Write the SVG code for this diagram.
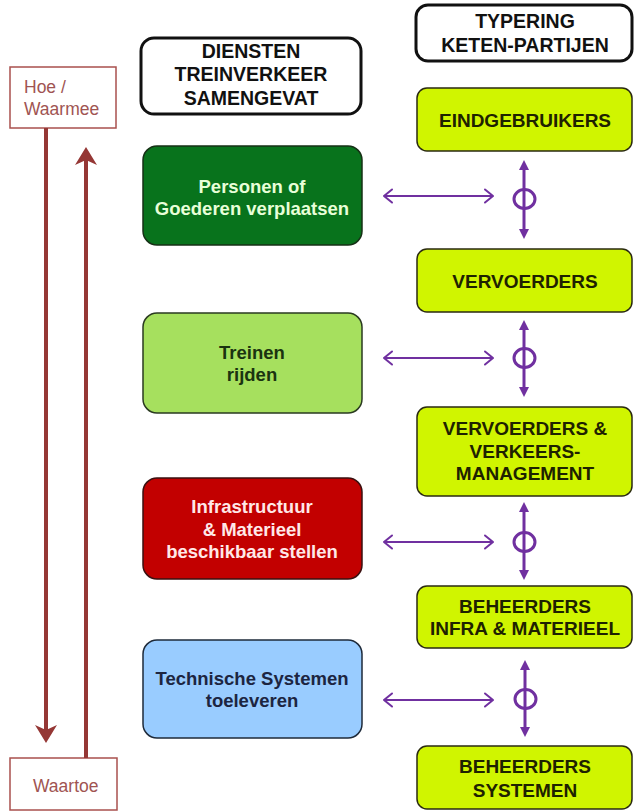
<svg xmlns="http://www.w3.org/2000/svg" width="634" height="811" viewBox="0 0 634 811">
<style>
.hdr{fill:#fff;stroke:#111;stroke-width:3}
.lbl{font-family:"Liberation Sans",Arial,sans-serif;font-weight:bold;text-anchor:middle}
.h{font-size:19.5px;fill:#111}
.r{font-size:19px;fill:#1e2200}
.l{font-size:18.5px}
.part{fill:#d0f500;stroke:#2a2a10;stroke-width:1.5}
.side{fill:#fff;stroke:#a9504e;stroke-width:1.5}
.sidet{font-family:"Liberation Sans",Arial,sans-serif;font-size:17.5px;fill:#a05452}
.brown{stroke:#953735;stroke-width:4;fill:none}
.vp{stroke:#7030a0;stroke-width:3;fill:none}
.hp{stroke:#7030a0;stroke-width:2;fill:none}
.ring{stroke:#7030a0;stroke-width:3;fill:none}
</style>
<defs>
<marker id="bh" viewBox="-10 -12 22 24" refX="0" refY="0" markerWidth="22" markerHeight="24" markerUnits="userSpaceOnUse" orient="auto">
<path d="M10,0 L-8,-11 L-3,0 L-8,11 Z" fill="#953735"/>
</marker>
<marker id="ph" viewBox="-5 -6 12 12" refX="0" refY="0" markerWidth="12" markerHeight="12" markerUnits="userSpaceOnUse" orient="auto-start-reverse">
<path d="M6,0 L-4,-5 L-4,5 Z" fill="#7030a0"/>
</marker>
<marker id="po" viewBox="-10 -8 12 16" refX="0" refY="0" markerWidth="12" markerHeight="16" markerUnits="userSpaceOnUse" orient="auto-start-reverse">
<path d="M-8,-6.5 L0,0 L-8,6.5" fill="none" stroke="#7030a0" stroke-width="2" stroke-linejoin="round" stroke-linecap="round"/>
</marker>
</defs>
<rect width="634" height="811" fill="#fff"/>

<g id="hoe">
<rect class="side" x="10" y="67" width="106" height="61"/>
<text class="sidet" x="24" y="93">Hoe /</text>
<text class="sidet" x="24" y="115">Waarmee</text>
</g>
<g id="waartoe">
<rect class="side" x="10" y="758" width="107" height="52"/>
<text class="sidet" x="33" y="792">Waartoe</text>
</g>

<g id="diensten">
<rect class="hdr" x="141" y="38" width="220" height="76" rx="13"/>
<text class="lbl h" x="251" y="58">DIENSTEN</text>
<text class="lbl h" x="251" y="81">TREINVERKEER</text>
<text class="lbl h" x="251" y="105">SAMENGEVAT</text>
</g>
<g id="typering">
<rect class="hdr" x="416" y="5" width="216" height="56" rx="12"/>
<text class="lbl h" x="525" y="28">TYPERING</text>
<text class="lbl h" x="525" y="52">KETEN-PARTIJEN</text>
</g>

<g id="eindgebruikers">
<rect class="part" x="417" y="88" width="215" height="63" rx="10"/>
<text class="lbl r" x="525" y="127">EINDGEBRUIKERS</text>
</g>
<g id="vervoerders">
<rect class="part" x="417" y="249" width="215" height="63" rx="10"/>
<text class="lbl r" x="525" y="288">VERVOERDERS</text>
</g>
<g id="verkeersmanagement">
<rect class="part" x="417" y="407" width="215" height="89" rx="10"/>
<text class="lbl r" x="525" y="435">VERVOERDERS &amp;</text>
<text class="lbl r" x="525" y="457.5">VERKEERS-</text>
<text class="lbl r" x="525" y="480">MANAGEMENT</text>
</g>
<g id="beheerders-infra">
<rect class="part" x="417" y="586" width="215" height="62" rx="10"/>
<text class="lbl r" x="525" y="613">BEHEERDERS</text>
<text class="lbl r" x="525" y="635">INFRA &amp; MATERIEEL</text>
</g>
<g id="beheerders-systemen">
<rect class="part" x="417" y="746" width="215" height="63" rx="10"/>
<text class="lbl r" x="525" y="773">BEHEERDERS</text>
<text class="lbl r" x="525" y="797">SYSTEMEN</text>
</g>

<g id="personen">
<rect x="143" y="146" width="219" height="99" rx="14" fill="#08731c" stroke="#163016" stroke-width="1.5"/>
<text class="lbl l" x="252" y="193" fill="#e8ffd8">Personen of</text>
<text class="lbl l" x="252" y="215" fill="#e8ffd8">Goederen verplaatsen</text>
</g>
<g id="treinen">
<rect x="143" y="313" width="219" height="100" rx="14" fill="#a6e05e" stroke="#2a3a20" stroke-width="1.5"/>
<text class="lbl l" x="252" y="359" fill="#1b3310">Treinen</text>
<text class="lbl l" x="252" y="381" fill="#1b3310">rijden</text>
</g>
<g id="infrastructuur">
<rect x="143" y="478" width="219" height="101" rx="14" fill="#c20000" stroke="#3a1010" stroke-width="1.5"/>
<text class="lbl l" x="252" y="513" fill="#ffe8e8">Infrastructuur</text>
<text class="lbl l" x="252" y="536" fill="#ffe8e8">&amp; Materieel</text>
<text class="lbl l" x="252" y="558" fill="#ffe8e8">beschikbaar stellen</text>
</g>
<g id="technische">
<rect x="143" y="640" width="219" height="98" rx="14" fill="#99ccff" stroke="#1e2a3a" stroke-width="1.5"/>
<text class="lbl l" x="252" y="685" fill="#1c2541">Technische Systemen</text>
<text class="lbl l" x="252" y="707" fill="#1c2541">toeleveren</text>
</g>

<g id="connectors">
<line class="brown" x1="46" y1="128" x2="46" y2="733" marker-end="url(#bh)"/>
<line class="brown" x1="86" y1="758" x2="86" y2="157" marker-end="url(#bh)"/>

<line class="hp" x1="384" y1="196" x2="493" y2="196" marker-start="url(#po)" marker-end="url(#po)"/>
<line class="vp" x1="524" y1="166" x2="524" y2="233" marker-start="url(#ph)" marker-end="url(#ph)"/>
<ellipse class="ring" cx="524.5" cy="199" rx="10.5" ry="9.5"/>

<line class="hp" x1="384" y1="358" x2="493" y2="358" marker-start="url(#po)" marker-end="url(#po)"/>
<line class="vp" x1="524" y1="326" x2="524" y2="391" marker-start="url(#ph)" marker-end="url(#ph)"/>
<ellipse class="ring" cx="524.5" cy="358" rx="10.5" ry="9.5"/>

<line class="hp" x1="384" y1="542" x2="493" y2="542" marker-start="url(#po)" marker-end="url(#po)"/>
<line class="vp" x1="524" y1="508" x2="524" y2="574" marker-start="url(#ph)" marker-end="url(#ph)"/>
<ellipse class="ring" cx="524.5" cy="542" rx="10.5" ry="9.5"/>

<line class="hp" x1="384" y1="700" x2="493" y2="700" marker-start="url(#po)" marker-end="url(#po)"/>
<line class="vp" x1="525" y1="666" x2="525" y2="731" marker-start="url(#ph)" marker-end="url(#ph)"/>
<ellipse class="ring" cx="525.5" cy="699" rx="10.5" ry="9.5"/>
</g>
</svg>
